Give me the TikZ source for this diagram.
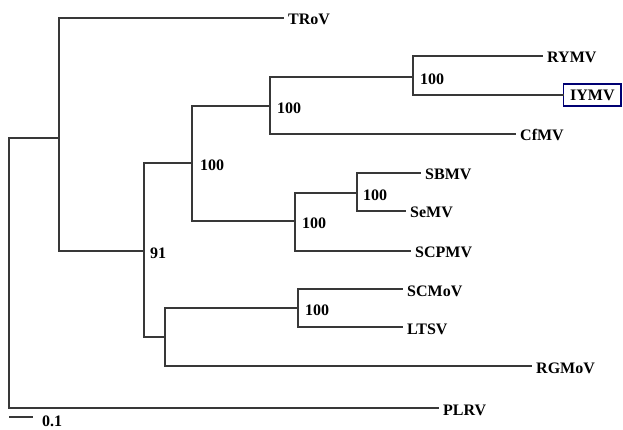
\documentclass[tikz,border=0pt]{standalone}
\usepackage{fontspec}
\setmainfont{Liberation Serif}
\begin{document}
\begin{tikzpicture}[x=1pt,y=-1pt,
  br/.style={draw=black!78,line width=1.7pt,line cap=rect},
  leaf/.style={anchor=west,inner xsep=5pt,inner ysep=0pt,text height=14pt,text depth=0pt,
    font=\fontsize{16}{18}\selectfont\bfseries},
  boot/.style={anchor=west,inner sep=0pt,yshift=-2pt,
    font=\fontsize{16}{18}\selectfont\bfseries},
  hl/.style={leaf,draw=blue!45!black,line width=1.4pt,inner xsep=6.5pt,
    minimum height=22pt,text height=11pt,text depth=0pt}]
\useasboundingbox (0,0) rectangle (623,430);
\fill[white] (0,0) rectangle (623,430);
% internal nodes
\coordinate (root) at (9,273);
\coordinate (nA) at (59,138);
\coordinate (nB) at (144,251);
\coordinate (nC) at (192,163);
\coordinate (nD) at (270,106);
\coordinate (nE) at (413,77);
\coordinate (nF) at (295,221);
\coordinate (nG) at (357,193);
\coordinate (nH) at (165,337);
\coordinate (nI) at (298,308);
% leaves
\node[leaf] (TRoV) at (283,18) {TRoV};
\node[leaf] (RYMV) at (542,56) {RYMV};
\node[hl] (IYMV) at (563,95) {IYMV};
\node[leaf] (CfMV) at (515,134) {CfMV};
\node[leaf] (SBMV) at (420,173) {SBMV};
\node[leaf] (SeMV) at (405,211) {SeMV};
\node[leaf] (SCPMV) at (410,251) {SCPMV};
\node[leaf] (SCMoV) at (402,289) {SCMoV};
\node[leaf] (LTSV) at (402,327) {LTSV};
\node[leaf] (RGMoV) at (531,366) {RGMoV};
\node[leaf] (PLRV) at (438,408) {PLRV};
% branches
\draw[br] (root) |- (nA);
\draw[br] (root) |- (PLRV.west);
\draw[br] (nA) |- (TRoV.west);
\draw[br] (nA) |- (nB);
\draw[br] (nB) |- (nC);
\draw[br] (nB) |- (nH);
\draw[br] (nC) |- (nD);
\draw[br] (nC) |- (nF);
\draw[br] (nD) |- (nE);
\draw[br] (nD) |- (CfMV.west);
\draw[br] (nE) |- (RYMV.west);
\draw[br] (nE) |- (IYMV.west);
\draw[br] (nF) |- (nG);
\draw[br] (nF) |- (SCPMV.west);
\draw[br] (nG) |- (SBMV.west);
\draw[br] (nG) |- (SeMV.west);
\draw[br] (nH) |- (nI);
\draw[br] (nH) |- (RGMoV.west);
\draw[br] (nI) |- (SCMoV.west);
\draw[br] (nI) |- (LTSV.west);
% bootstrap values
\node[boot,xshift=6pt] (bB) at (nB) {91};
\node[boot,xshift=8pt] (bC) at (nC) {100};
\node[boot,xshift=7pt] (bD) at (nD) {100};
\node[boot,xshift=7pt] (bE) at (nE) {100};
\node[boot,xshift=7pt] (bF) at (nF) {100};
\node[boot,xshift=6pt] (bG) at (nG) {100};
\node[boot,xshift=7pt] (bI) at (nI) {100};
% scale bar
\coordinate (s1) at (9,417);
\coordinate (s2) at (33,417);
\draw[br,line cap=butt] (s1) -- (s2);
\node[boot,yshift=2pt] (sl) at (42,421) {0.1};
\end{tikzpicture}
\end{document}
